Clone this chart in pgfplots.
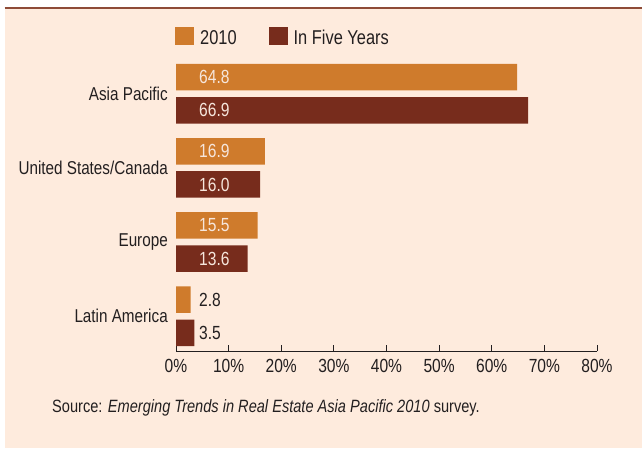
\documentclass[border=0pt]{standalone}
\usepackage{fontspec}
\setmainfont{Liberation Sans}[FakeStretch=0.82]
\usepackage{pgfplots}
\pgfplotsset{compat=1.18}
\usepackage{pgfplotstable}

\definecolor{bgpeach}{HTML}{FEEBDD}
\definecolor{topline}{HTML}{8E4B37}
\definecolor{barorange}{HTML}{CF7B2C}
\definecolor{barbrown}{HTML}{772C1C}
\definecolor{txt}{HTML}{231F20}
\definecolor{lbl}{HTML}{F6E6DC}

% y: category position (Latin America at the bottom)
\pgfplotstableread{
y  now   five
3  64.8  66.9
2  16.9  16.0
1  15.5  13.6
0  2.8   3.5
}\regions

\newcommand{\sh}{0.2237}

\begin{document}
\fontsize{19}{23}\selectfont
\begin{tikzpicture}
\useasboundingbox (0pt,0pt) rectangle (642pt,-451pt);
\fill[bgpeach] (4.5pt,-8pt) rectangle (642pt,-448pt);
\draw[topline, line width=1.2pt] (4.5pt,-8pt) -- (642pt,-8pt);

\begin{axis}[
    at={(176pt,-351.3pt)}, anchor=south west,
    scale only axis,
    width=421pt, height=294.7pt,
    xmin=0, xmax=80,
    ymin=-0.472, ymax=3.5,
    axis x line*=bottom,
    axis y line*=left,
    y axis line style={draw=none},
    axis line style={txt, line width=1.1pt},
    xtick={0,10,...,80},
    xticklabel={\pgfmathprintnumber{\tick}\%},
    tick align=inside,
    major tick length=6pt,
    x tick style={txt, line width=1pt},
    ytick={0,1,2,3},
    y tick style={draw=none},
    yticklabels={Latin America,Europe,United States/Canada,Asia Pacific},
    /pgf/number format/assume math mode=true,
    tick label style={font=\fontsize{19}{23}\selectfont, text=txt},
    x tick label style={yshift=-1.5pt},
    y tick label style={xshift=-1.7pt, font=\fontsize{18.6}{22}\selectfont},
    legend columns=2,
    legend style={at={(axis description cs:0,1)}, anchor=south west,
        yshift=7pt, xshift=-1pt,
        draw=none, fill=none, inner sep=0pt,
        font=\fontsize{20}{24}\selectfont, text=txt,
        /tikz/every odd column/.append style={column sep=4pt},
        /tikz/every even column/.append style={column sep=30pt}},
    clip=false,
]
\addplot[xbar, bar width=26.5pt, bar shift=16.6pt, draw=none, fill=barorange,
    legend image code/.code={\fill[barorange] (0pt,-6pt) rectangle (19pt,11.4pt);}]
    table[x=now, y=y] {\regions};
\addlegendentry{2010}
\addplot[xbar, bar width=26.5pt, bar shift=-16.6pt, draw=none, fill=barbrown,
    legend image code/.code={\fill[barbrown] (0pt,-6pt) rectangle (19pt,11.4pt);}]
    table[x=five, y=y] {\regions};
\addlegendentry{In Five Years}

% value labels
\pgfplotsset{vallabel/.style={forget plot, draw=none, mark=none,
    point meta=explicit, nodes near coords,
    nodes near coords={\pgfmathprintnumber[fixed,fixed zerofill,precision=1]{\pgfplotspointmeta}},
    every node near coord/.append style={anchor=west, xshift=16.7pt,
        font=\fontsize{19}{23}\selectfont, text=#1}}}
\addplot[vallabel=lbl, skip coords between index={3}{4}]
    table[x expr=0, y expr=\thisrow{y}+\sh, meta=now] {\regions};
\addplot[vallabel=lbl, skip coords between index={3}{4}]
    table[x expr=0, y expr=\thisrow{y}-\sh, meta=five] {\regions};
\addplot[vallabel=txt, skip coords between index={0}{3}]
    table[x expr=0, y expr=\thisrow{y}+\sh, meta=now] {\regions};
\addplot[vallabel=txt, skip coords between index={0}{3}]
    table[x expr=0, y expr=\thisrow{y}-\sh, meta=five] {\regions};
\end{axis}

\node[anchor=base west, text=txt, inner sep=0pt, font=\fontsize{17.8}{21}\selectfont]
    at (52pt,-412pt) {Source: \textit{Emerging Trends in Real Estate Asia Pacific 2010} survey.};
\end{tikzpicture}
\end{document}
